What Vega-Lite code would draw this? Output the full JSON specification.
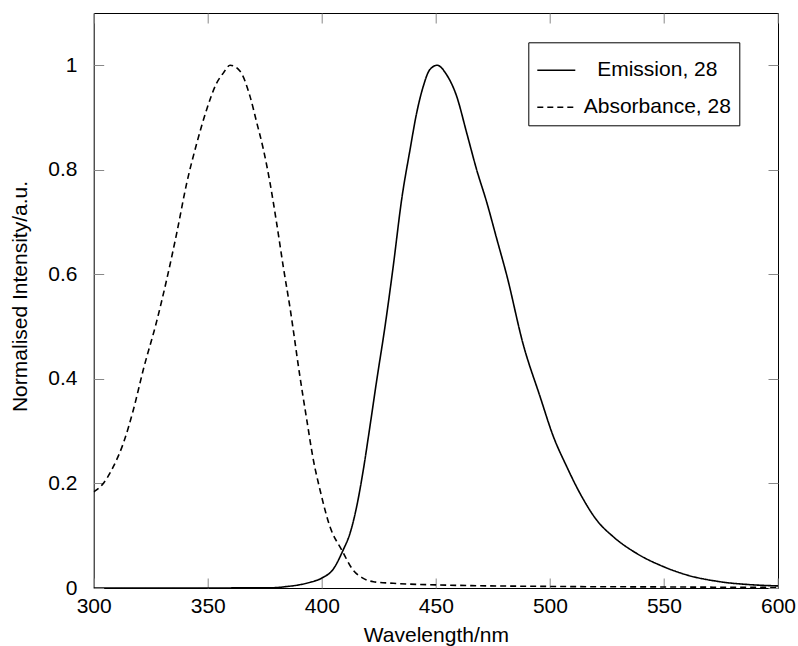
{
  "$schema": "https://vega.github.io/schema/vega-lite/v6.json",
  "autosize": {"type": "none"},
  "padding": {"left": 93.7, "top": 13, "right": 20, "bottom": 58},
  "width": 684.3,
  "height": 575,
  "background": "white",
  "config": {
    "font": "Liberation Sans",
    "view": {"stroke": "black", "strokeWidth": 1},
    "axis": {
      "labelFont": "Liberation Sans",
      "labelFontSize": 21,
      "labelColor": "black",
      "titleFont": "Liberation Sans",
      "titleFontSize": 21,
      "titleFontWeight": "normal",
      "titleColor": "black",
      "tickColor": "#888888",
      "tickWidth": 1,
      "tickSize": -10,
      "domain": false,
      "grid": false,
      "labelFlush": false,
      "labelOverlap": false
    },
    "legend": {
      "orient": "none",
      "legendX": 434.6,
      "legendY": 29.3,
      "direction": "vertical",
      "strokeColor": "black",
      "fillColor": "white",
      "padding": 8,
      "symbolType": "stroke",
      "symbolSize": 1444,
      "symbolStrokeWidth": 1.6,
      "labelFont": "Liberation Sans",
      "labelFontSize": 21,
      "labelColor": "black",
      "labelAlign": "center",
      "labelOffset": 81,
      "labelLimit": 400,
      "rowPadding": 7
    }
  },
  "data": {
    "values": [
      {"wavelength": 300, "intensity": 0, "series": "Emission, 28"},
      {"wavelength": 340, "intensity": 0, "series": "Emission, 28"},
      {"wavelength": 378, "intensity": 0.0005, "series": "Emission, 28"},
      {"wavelength": 385, "intensity": 0.003, "series": "Emission, 28"},
      {"wavelength": 390, "intensity": 0.006, "series": "Emission, 28"},
      {"wavelength": 395, "intensity": 0.011, "series": "Emission, 28"},
      {"wavelength": 400, "intensity": 0.019, "series": "Emission, 28"},
      {"wavelength": 405, "intensity": 0.036, "series": "Emission, 28"},
      {"wavelength": 409.4, "intensity": 0.073, "series": "Emission, 28"},
      {"wavelength": 412.4, "intensity": 0.105, "series": "Emission, 28"},
      {"wavelength": 415.3, "intensity": 0.156, "series": "Emission, 28"},
      {"wavelength": 418.2, "intensity": 0.226, "series": "Emission, 28"},
      {"wavelength": 421.1, "intensity": 0.309, "series": "Emission, 28"},
      {"wavelength": 424.1, "intensity": 0.398, "series": "Emission, 28"},
      {"wavelength": 427.7, "intensity": 0.5, "series": "Emission, 28"},
      {"wavelength": 431.3, "intensity": 0.615, "series": "Emission, 28"},
      {"wavelength": 435, "intensity": 0.743, "series": "Emission, 28"},
      {"wavelength": 438.7, "intensity": 0.839, "series": "Emission, 28"},
      {"wavelength": 441.6, "intensity": 0.909, "series": "Emission, 28"},
      {"wavelength": 444.5, "intensity": 0.96, "series": "Emission, 28"},
      {"wavelength": 447.4, "intensity": 0.992, "series": "Emission, 28"},
      {"wavelength": 450.6, "intensity": 1.0, "series": "Emission, 28"},
      {"wavelength": 454.7, "intensity": 0.982, "series": "Emission, 28"},
      {"wavelength": 459.1, "intensity": 0.941, "series": "Emission, 28"},
      {"wavelength": 463.5, "intensity": 0.871, "series": "Emission, 28"},
      {"wavelength": 467.9, "intensity": 0.8, "series": "Emission, 28"},
      {"wavelength": 472.3, "intensity": 0.738, "series": "Emission, 28"},
      {"wavelength": 476.7, "intensity": 0.668, "series": "Emission, 28"},
      {"wavelength": 481.1, "intensity": 0.598, "series": "Emission, 28"},
      {"wavelength": 488.3, "intensity": 0.466, "series": "Emission, 28"},
      {"wavelength": 495.7, "intensity": 0.366, "series": "Emission, 28"},
      {"wavelength": 501.5, "intensity": 0.29, "series": "Emission, 28"},
      {"wavelength": 507.4, "intensity": 0.232, "series": "Emission, 28"},
      {"wavelength": 513.2, "intensity": 0.181, "series": "Emission, 28"},
      {"wavelength": 520.5, "intensity": 0.13, "series": "Emission, 28"},
      {"wavelength": 527.8, "intensity": 0.098, "series": "Emission, 28"},
      {"wavelength": 538.1, "intensity": 0.066, "series": "Emission, 28"},
      {"wavelength": 549.7, "intensity": 0.041, "series": "Emission, 28"},
      {"wavelength": 560, "intensity": 0.025, "series": "Emission, 28"},
      {"wavelength": 574.6, "intensity": 0.012, "series": "Emission, 28"},
      {"wavelength": 589.2, "intensity": 0.006, "series": "Emission, 28"},
      {"wavelength": 600, "intensity": 0.004, "series": "Emission, 28"},
      {"wavelength": 300, "intensity": 0.184, "series": "Absorbance, 28"},
      {"wavelength": 304.2, "intensity": 0.2, "series": "Absorbance, 28"},
      {"wavelength": 308.6, "intensity": 0.232, "series": "Absorbance, 28"},
      {"wavelength": 313, "intensity": 0.277, "series": "Absorbance, 28"},
      {"wavelength": 317.4, "intensity": 0.341, "series": "Absorbance, 28"},
      {"wavelength": 321.7, "intensity": 0.417, "series": "Absorbance, 28"},
      {"wavelength": 327.6, "intensity": 0.51, "series": "Absorbance, 28"},
      {"wavelength": 332, "intensity": 0.59, "series": "Absorbance, 28"},
      {"wavelength": 336.4, "intensity": 0.679, "series": "Absorbance, 28"},
      {"wavelength": 340.8, "intensity": 0.775, "series": "Absorbance, 28"},
      {"wavelength": 345.2, "intensity": 0.851, "series": "Absorbance, 28"},
      {"wavelength": 349.5, "intensity": 0.915, "series": "Absorbance, 28"},
      {"wavelength": 353.9, "intensity": 0.966, "series": "Absorbance, 28"},
      {"wavelength": 356.8, "intensity": 0.985, "series": "Absorbance, 28"},
      {"wavelength": 359.8, "intensity": 1.0, "series": "Absorbance, 28"},
      {"wavelength": 364.1, "intensity": 0.989, "series": "Absorbance, 28"},
      {"wavelength": 368.5, "intensity": 0.941, "series": "Absorbance, 28"},
      {"wavelength": 371.5, "intensity": 0.89, "series": "Absorbance, 28"},
      {"wavelength": 374.4, "intensity": 0.839, "series": "Absorbance, 28"},
      {"wavelength": 377.3, "intensity": 0.775, "series": "Absorbance, 28"},
      {"wavelength": 380.2, "intensity": 0.698, "series": "Absorbance, 28"},
      {"wavelength": 383.1, "intensity": 0.615, "series": "Absorbance, 28"},
      {"wavelength": 386.1, "intensity": 0.535, "series": "Absorbance, 28"},
      {"wavelength": 390.4, "intensity": 0.405, "series": "Absorbance, 28"},
      {"wavelength": 393.4, "intensity": 0.322, "series": "Absorbance, 28"},
      {"wavelength": 396.3, "intensity": 0.245, "series": "Absorbance, 28"},
      {"wavelength": 399.2, "intensity": 0.188, "series": "Absorbance, 28"},
      {"wavelength": 403.6, "intensity": 0.117, "series": "Absorbance, 28"},
      {"wavelength": 408.7, "intensity": 0.073, "series": "Absorbance, 28"},
      {"wavelength": 413.8, "intensity": 0.034, "series": "Absorbance, 28"},
      {"wavelength": 418, "intensity": 0.019, "series": "Absorbance, 28"},
      {"wavelength": 422.6, "intensity": 0.012, "series": "Absorbance, 28"},
      {"wavelength": 431.3, "intensity": 0.009, "series": "Absorbance, 28"},
      {"wavelength": 450, "intensity": 0.006, "series": "Absorbance, 28"},
      {"wavelength": 500, "intensity": 0.003, "series": "Absorbance, 28"},
      {"wavelength": 550, "intensity": 0.002, "series": "Absorbance, 28"},
      {"wavelength": 600, "intensity": 0.001, "series": "Absorbance, 28"}
    ]
  },
  "layer": [
    {
      "mark": {"type": "line", "interpolate": "monotone", "strokeWidth": 1.6, "clip": true},
      "encoding": {
        "x": {
          "field": "wavelength", "type": "quantitative",
          "scale": {"domain": [300, 600], "nice": false, "zero": false},
          "axis": {
            "orient": "bottom",
            "title": "Wavelength/nm",
            "values": [300, 350, 400, 450, 500, 550, 600],
            "format": "d",
            "labelPadding": 17,
            "labelBaseline": "top",
            "titleBaseline": "alphabetic",
            "titleY": 53
          }
        },
        "y": {
          "field": "intensity", "type": "quantitative",
          "scale": {"domain": [0, 1.1], "nice": false, "zero": false},
          "axis": {
            "orient": "left",
            "title": "Normalised Intensity/a.u.",
            "values": [0, 0.2, 0.4, 0.6, 0.8, 1],
            "format": "~g",
            "labelPadding": 26.7,
            "titleAngle": -90,
            "titleBaseline": "alphabetic",
            "titleAlign": "center",
            "titleX": -67,
            "titleY": 283
          }
        },
        "color": {
          "field": "series", "type": "nominal",
          "scale": {"domain": ["Emission, 28", "Absorbance, 28"], "range": ["black", "black"]},
          "legend": {"title": null}
        },
        "strokeDash": {
          "field": "series", "type": "nominal",
          "scale": {"domain": ["Emission, 28", "Absorbance, 28"], "range": [[1, 0], [6, 4]]},
          "legend": {"title": null}
        }
      }
    },
    {
      "mark": {"type": "line", "opacity": 0},
      "encoding": {
        "x": {
          "field": "wavelength", "type": "quantitative",
          "axis": {"orient": "top", "title": null, "labels": false, "values": [300, 350, 400, 450, 500, 550, 600]}
        },
        "y": {
          "field": "intensity", "type": "quantitative",
          "axis": {"orient": "right", "title": null, "labels": false, "values": [0, 0.2, 0.4, 0.6, 0.8, 1]}
        },
        "detail": {"field": "series", "type": "nominal"}
      }
    }
  ],
  "resolve": {"axis": {"x": "independent", "y": "independent"}}
}
